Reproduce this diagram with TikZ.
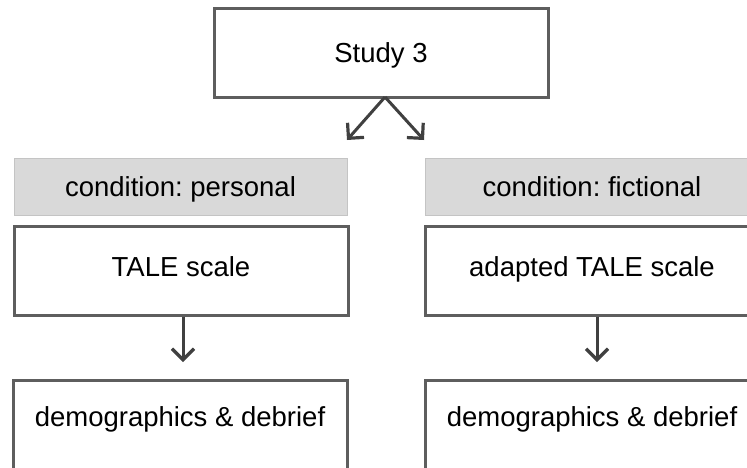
\documentclass[tikz,border=0pt]{standalone}
\usepackage{fontspec}
\setmainfont{Liberation Sans}
\usetikzlibrary{arrows.meta}
\definecolor{boxline}{HTML}{5E5E5E}
\definecolor{arrowcol}{HTML}{404040}
\definecolor{condfill}{HTML}{D9D9D9}
\definecolor{condline}{HTML}{C4C4C4}
\frenchspacing
\begin{document}
\begin{tikzpicture}[x=1pt,y=-1pt,
  every node/.style={font=\fontsize{27.5}{33}\selectfont\frenchspacing, inner sep=0pt, text height=19.7pt, text depth=0pt},
  stepbox/.style={draw=boxline, line width=3pt, fill=white, minimum width=334pt, minimum height=89pt},
  condbox/.style={draw=condline, line width=0.8pt, fill=condfill, minimum width=333pt, minimum height=57pt},
  conn/.style={draw=arrowcol, line width=3pt, -{Straight Barb[length=11pt,width=22pt,line width=3.2pt]}}
]
\useasboundingbox (0,0) rectangle (747,467);
\clip (0,0) rectangle (747,467);
\node[stepbox] (study) at (381,52.5) {Study 3};
\node[condbox] (cond1) at (180.5,186.5) {condition: personal};
\node[stepbox, text depth=8pt] (tale1) at (181,270.5) {TALE scale};
\node[stepbox, text depth=15pt] (demo1) at (180,424.5) {demographics \& debrief};
\node[condbox, minimum width=334pt] (cond2) at (592,186.5) {condition: fictional};
\node[stepbox, text depth=8pt] (tale2) at (592,270.5) {adapted TALE scale};
\node[stepbox, text depth=15pt] (demo2) at (592,424.5) {demographics \& debrief};
\coordinate (apex) at (385,97);
\coordinate (tipl) at (347,140);
\coordinate (tipr) at (424,140);
\draw[conn] (apex) -- (tipl);
\draw[conn] (apex) -- (tipr);
\draw[conn] ([xshift=2pt]tale1.south) -- ([xshift=2pt]tale1.south |- 0,362);
\draw[conn] ([xshift=5pt]tale2.south) -- ([xshift=5pt]tale2.south |- 0,362);
\end{tikzpicture}
\end{document}
